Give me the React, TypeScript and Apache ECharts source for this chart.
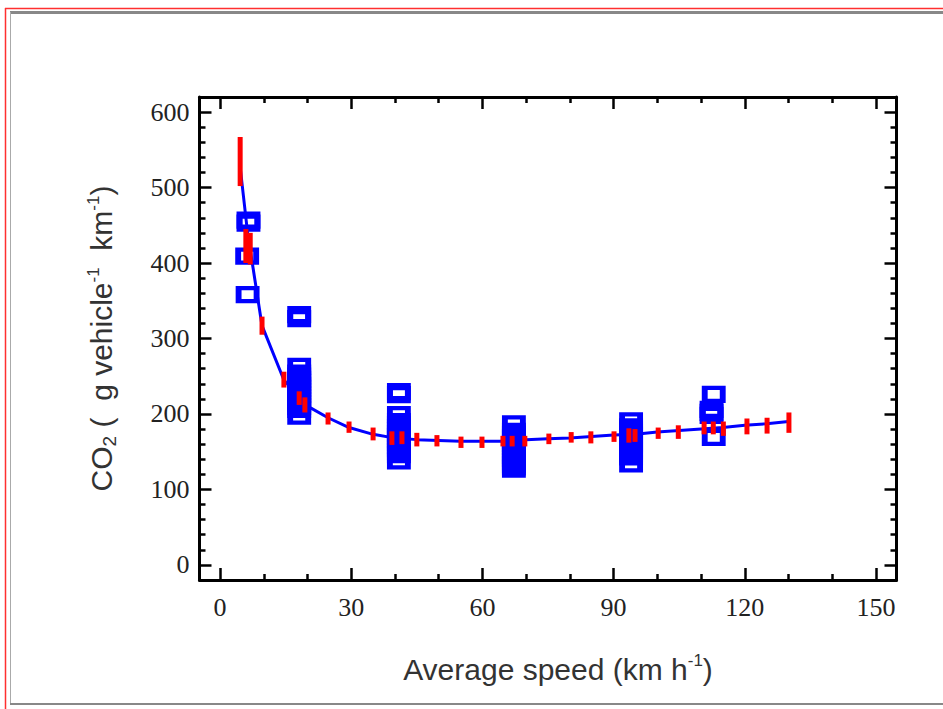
import React, { useEffect, useRef } from "react";
import * as echarts from "echarts";

// Axis ticks
const xMajorTicks = [0, 30, 60, 90, 120, 150];
const xMinorTicks = [10, 20, 40, 50, 70, 80, 100, 110, 130, 140];
const yMajorTicks = [0, 100, 200, 300, 400, 500, 600];
const yMinorTicks = [
  20, 40, 60, 80, 120, 140, 160, 180, 220, 240, 260, 280, 320, 340, 360, 380,
  420, 440, 460, 480, 520, 540, 560, 580,
];

// Fitted curve (blue line): [speed, CO2]
const fitCurve: [number, number][] = [
  [4.6, 527], [6.3, 440], [9.6, 317], [14.6, 245], [18.1, 222], [20.1, 210],
  [24.7, 195], [29.5, 182], [35, 173], [40, 168], [45, 166], [50, 165],
  [55, 164], [60, 164], [65, 164], [70, 166], [75, 167], [80, 168], [85, 170],
  [90, 172], [95, 173], [100, 176], [105, 178], [110, 180], [115, 182],
  [120, 185], [125, 187], [130, 190],
];

// Model ranges (red bars): [speed, low, high]
const modelRanges: [number, number, number][] = [
  [4.6, 502, 567], [5.9, 400, 445], [6.9, 398, 440], [9.6, 305, 329],
  [14.6, 235, 256], [18.1, 212, 230], [19.4, 202, 222], [24.7, 186, 202],
  [29.5, 175, 190], [35, 165, 182], [39.3, 159, 177], [41.6, 160, 177],
  [45, 157, 175], [49.6, 157, 172], [55.1, 155, 170], [59.9, 155, 170],
  [64.7, 157, 171], [66.8, 157, 171], [69.7, 157, 171], [75.2, 160, 174],
  [80.3, 162, 176], [84.8, 161, 177], [90.1, 163, 177], [93.5, 162, 181],
  [94.9, 163, 180], [100.2, 167, 182], [104.8, 167, 185], [110.7, 173, 190],
  [112.8, 173, 190], [115.1, 171, 190], [120.5, 173, 194], [125.1, 174, 195],
  [130.1, 175, 202],
];

// Measured values (blue squares): [speed, CO2]
const measured: [number, number][] = [
  [6.5, 453], [6.5, 457], [6.2, 409], [6.3, 358],
  [18.1, 331.5], [18.1, 326.5],
  [18.1, 263], [18.1, 254], [18.1, 250], [18.1, 246], [18.1, 242], [18.1, 238],
  [18.1, 234], [18.1, 230], [18.1, 226], [18.1, 222], [18.1, 218], [18.1, 214],
  [18.1, 210], [18.1, 206], [18.1, 197],
  [40.9, 229.5], [40.9, 225.5],
  [40.9, 199], [40.9, 190], [40.9, 186], [40.9, 182], [40.9, 178], [40.9, 174],
  [40.9, 170], [40.9, 166], [40.9, 162], [40.9, 158], [40.9, 154], [40.9, 150],
  [40.9, 146], [40.9, 138],
  [67.2, 187], [67.2, 177], [67.2, 173], [67.2, 169], [67.2, 165], [67.2, 161],
  [67.2, 157], [67.2, 153], [67.2, 149], [67.2, 145], [67.2, 141], [67.2, 137],
  [67.2, 133], [67.2, 130], [67.2, 127],
  [94.0, 191], [94.0, 183], [94.0, 179], [94.0, 175], [94.0, 171], [94.0, 167],
  [94.0, 163], [94.0, 159], [94.0, 155], [94.0, 151], [94.0, 147], [94.0, 143],
  [94.0, 134],
  [112.9, 226], [112.4, 206], [112.4, 202], [112.4, 198], [112.9, 169],
];

const X_MIN = -4.7;
const X_MAX = 154.7;
const Y_MIN = -20;
const Y_MAX = 620;

const serif = "'Liberation Serif', 'DejaVu Serif', serif";
const sans = "'Liberation Sans', Arial, sans-serif";

export default function App() {
  const ref = useRef<HTMLDivElement>(null);

  useEffect(() => {
    if (!ref.current) return;
    const chart = echarts.init(ref.current, undefined, { renderer: "svg" });

    const lineStyle = { color: "#000", width: 3 };
    const mk = (
      kind: "x" | "y",
      position: string,
      ticks: number[],
      len: number,
      showLine: boolean,
      labels: boolean,
      extra: any = {}
    ) => ({
      type: "value",
      position,
      min: kind === "x" ? X_MIN : Y_MIN,
      max: kind === "x" ? X_MAX : Y_MAX,
      axisLine: { show: showLine, onZero: false, lineStyle },
      axisTick: {
        show: true,
        inside: true,
        length: len,
        customValues: ticks,
        lineStyle: { color: "#000", width: 2.5 },
      },
      axisLabel: labels
        ? {
            show: true,
            customValues: ticks,
            fontFamily: serif,
            fontSize: 26,
            color: "#222",
            margin: kind === "x" ? 14 : 10,
          }
        : { show: false },
      splitLine: { show: false },
      ...extra,
    });

    const richStyles = {
      a: { fontFamily: sans, fontSize: 30, color: "#333", lineHeight: 34, verticalAlign: "middle" },
      sub: { fontFamily: sans, fontSize: 19, color: "#333", lineHeight: 18, verticalAlign: "bottom" },
      sup: { fontFamily: sans, fontSize: 17, color: "#333", lineHeight: 18, verticalAlign: "top" },
    };

    chart.setOption({
      animation: false,
      backgroundColor: "#ffffff",
      grid: { left: 199.5, top: 97, width: 697, height: 483, containLabel: false },
      xAxis: [
        mk("x", "bottom", xMajorTicks, 12, true, true, {
          name: "{a|Average speed (km h}{sup|-1}{a|)}",
          nameLocation: "middle",
          nameGap: 72,
          nameTextStyle: { rich: richStyles, padding: [0, 0, 0, 20] },
        }),
        mk("x", "bottom", xMinorTicks, 6, false, false),
        mk("x", "top", xMajorTicks, 12, true, false),
        mk("x", "top", xMinorTicks, 6, false, false),
      ],
      yAxis: [
        mk("y", "left", yMajorTicks, 12, true, true, {
          name: "{a|CO}{sub|2}{a| (  g vehicle}{sup|-1}{a|  km}{sup|-1}{a|)}",
          nameLocation: "middle",
          nameGap: 81,
          nameTextStyle: { rich: richStyles },
        }),
        mk("y", "left", yMinorTicks, 6, false, false),
        mk("y", "right", yMajorTicks, 12, true, false),
        mk("y", "right", yMinorTicks, 6, false, false),
      ],
      graphic: [
        { type: "line", shape: { x1: 5.5, y1: 8, x2: 5.5, y2: 709 }, style: { stroke: "#ff3030", lineWidth: 1.5 }, z: -1 },
        { type: "line", shape: { x1: 5, y1: 8.5, x2: 943, y2: 8.5 }, style: { stroke: "#ff3030", lineWidth: 1.5 }, z: -1 },
        { type: "line", shape: { x1: 10, y1: 12.5, x2: 943, y2: 12.5 }, style: { stroke: "#888", lineWidth: 3 }, z: -1 },
        { type: "line", shape: { x1: 10.5, y1: 12, x2: 10.5, y2: 704 }, style: { stroke: "#aaa", lineWidth: 1 }, z: -1 },
        { type: "line", shape: { x1: 10, y1: 704, x2: 943, y2: 704 }, style: { stroke: "#888", lineWidth: 2 }, z: -1 },
      ],
      series: [
        {
          type: "line",
          data: fitCurve,
          showSymbol: false,
          symbol: "none",
          lineStyle: { color: "#0000ff", width: 3 },
          z: 2,
        },
        {
          type: "scatter",
          data: measured,
          symbol: "rect",
          symbolSize: [18, 13],
          itemStyle: { color: "rgba(0,0,0,0)", borderColor: "#0000ff", borderWidth: 5, opacity: 1 },
          z: 3,
        },
        {
          type: "custom",
          data: modelRanges,
          encode: { x: 0, y: [1, 2] },
          renderItem: (_params: any, api: any) => {
            const x = api.value(0);
            const lo = api.value(1);
            const hi = api.value(2);
            const p1 = api.coord([x, hi]);
            const p2 = api.coord([x, lo]);
            return {
              type: "rect",
              shape: { x: p1[0] - 2.5, y: p1[1], width: 5, height: p2[1] - p1[1] },
              style: { fill: "#ff0000" },
            };
          },
          z: 4,
        },
      ],
    });

    return () => chart.dispose();
  }, []);

  return (
    <div
      ref={ref}
      style={{ position: "fixed", left: 0, top: 0, width: 943, height: 709, background: "#fff" }}
    />
  );
}
